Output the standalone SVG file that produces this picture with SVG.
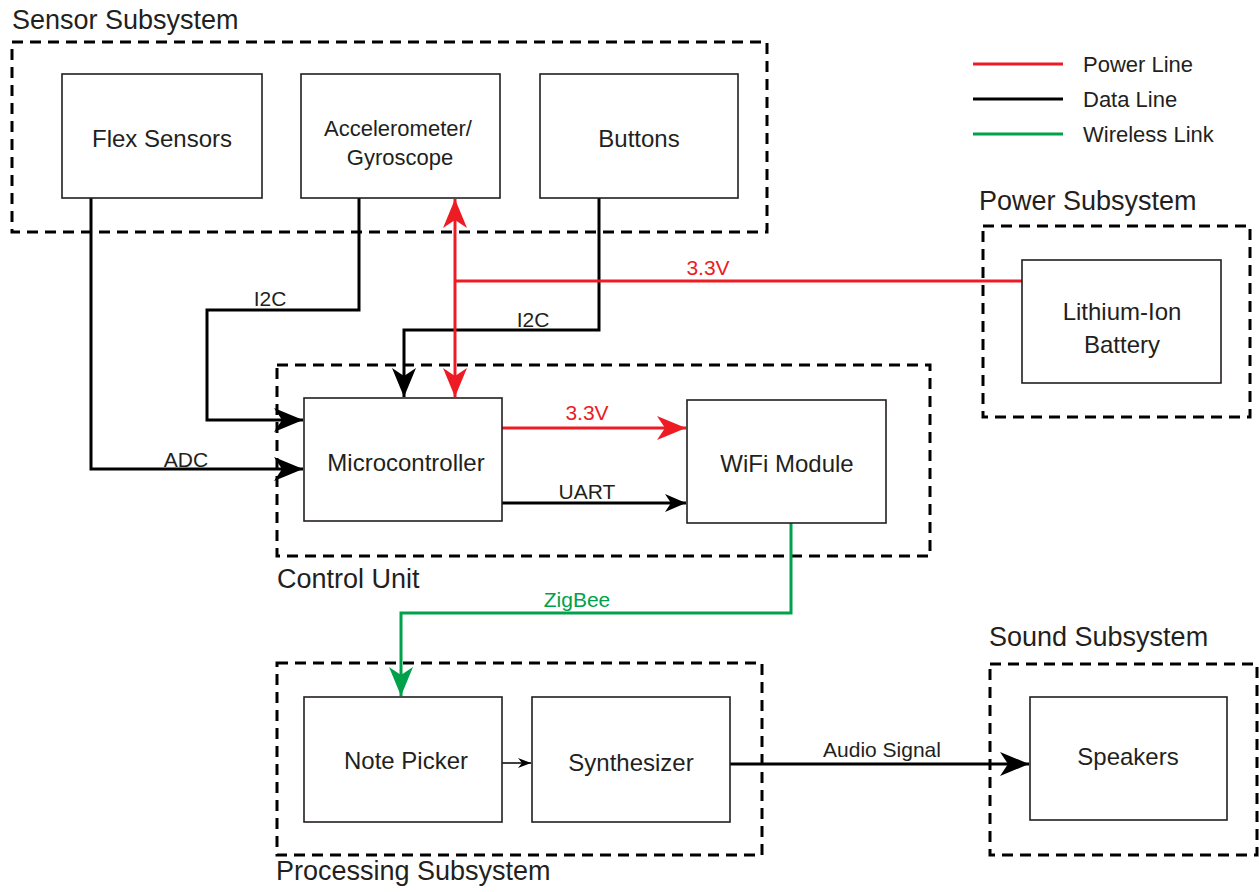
<svg xmlns="http://www.w3.org/2000/svg" width="1259" height="892" viewBox="0 0 1259 892">
<style>
.grp{fill:none;stroke:#000;stroke-width:3;stroke-dasharray:11 7}
.box{fill:#fff;stroke:#231f20;stroke-width:1.6}
.t{font-family:"Liberation Sans",Arial,sans-serif;fill:#231f20}
.gl{font-size:27px}
.bl{font-size:24px;text-anchor:middle}
.cl{font-size:21px;text-anchor:middle}
.lg{font-size:22px}
.data{fill:none;stroke:#000;stroke-width:3}
.pow{fill:none;stroke:#ed1c24;stroke-width:3}
.wl{fill:none;stroke:#00a14b;stroke-width:3}
</style>
<defs>
<marker id="ab" markerUnits="userSpaceOnUse" markerWidth="32" markerHeight="28" viewBox="-30 -14 32 28" refX="0" refY="0" orient="auto"><path d="M0,0 L-29,-12 L-21,0 L-29,12 Z" fill="#000"/></marker>
<marker id="ar" markerUnits="userSpaceOnUse" markerWidth="32" markerHeight="28" viewBox="-30 -14 32 28" refX="0" refY="0" orient="auto-start-reverse"><path d="M0,0 L-29,-12 L-21,0 L-29,12 Z" fill="#ed1c24"/></marker>
<marker id="ag" markerUnits="userSpaceOnUse" markerWidth="32" markerHeight="28" viewBox="-30 -14 32 28" refX="0" refY="0" orient="auto"><path d="M0,0 L-29,-12 L-21,0 L-29,12 Z" fill="#00a14b"/></marker>
<marker id="abs" markerUnits="userSpaceOnUse" markerWidth="24" markerHeight="20" viewBox="-22 -10 24 20" refX="0" refY="0" orient="auto"><path d="M0,0 L-21,-9 L-15,0 L-21,9 Z" fill="#000"/></marker>
<marker id="at" markerUnits="userSpaceOnUse" markerWidth="16" markerHeight="12" viewBox="-14 -6 16 12" refX="0" refY="0" orient="auto"><path d="M0,0 L-13,-5 L-9,0 L-13,5 Z" fill="#000"/></marker>
</defs>

<g id="sensor-subsystem">
<rect class="grp" x="12" y="42" width="755" height="190"/>
<text class="t gl" x="12" y="29">Sensor Subsystem</text>
</g>
<g id="power-subsystem">
<rect class="grp" x="983" y="226" width="267" height="191"/>
<text class="t gl" x="979" y="210">Power Subsystem</text>
</g>
<g id="control-unit">
<rect class="grp" x="277" y="365" width="653" height="191"/>
<text class="t gl" x="277" y="588">Control Unit</text>
</g>
<g id="processing-subsystem">
<rect class="grp" x="277" y="663" width="485" height="192"/>
<text class="t gl" x="276" y="880">Processing Subsystem</text>
</g>
<g id="sound-subsystem">
<rect class="grp" x="990" y="664" width="267" height="191"/>
<text class="t gl" x="989" y="646">Sound Subsystem</text>
</g>

<g id="legend">
<line x1="973" y1="64" x2="1063" y2="64" class="pow"/>
<line x1="973" y1="99" x2="1063" y2="99" class="data"/>
<line x1="973" y1="134" x2="1063" y2="134" class="wl"/>
<text class="t lg" x="1083" y="72">Power Line</text>
<text class="t lg" x="1083" y="107">Data Line</text>
<text class="t lg" x="1083" y="142">Wireless Link</text>
</g>

<g id="connectors">
<polyline class="data" points="91,198 91,469 303,469" marker-end="url(#ab)"/>
<polyline class="data" points="359,198 359,310 207,310 207,420 303,420" marker-end="url(#ab)"/>
<polyline class="data" points="599,198 599,330 404,330 404,397" marker-end="url(#ab)"/>
<line class="pow" x1="455" y1="199" x2="455" y2="397" marker-start="url(#ar)" marker-end="url(#ar)"/>
<line class="pow" x1="455" y1="281" x2="1022" y2="281"/>
<line class="pow" x1="502" y1="428" x2="686" y2="428" marker-end="url(#ar)"/>
<line class="data" x1="502" y1="503" x2="686" y2="503" stroke-width="2.5" marker-end="url(#abs)"/>
<polyline class="wl" points="791,523 791,613 401,613 401,696" marker-end="url(#ag)"/>
<line x1="502" y1="763" x2="531" y2="763" stroke="#000" stroke-width="1.5" marker-end="url(#at)"/>
<line class="data" x1="730" y1="764" x2="1029" y2="764" marker-end="url(#ab)"/>
<text class="t cl" x="270" y="306">I2C</text>
<text class="t cl" x="533" y="327">I2C</text>
<text class="t cl" x="186" y="467">ADC</text>
<text class="t cl" x="708" y="275" fill="#ed1c24" style="fill:#ed1c24">3.3V</text>
<text class="t cl" x="587" y="420" style="fill:#ed1c24">3.3V</text>
<text class="t cl" x="587" y="499">UART</text>
<text class="t cl" x="577" y="607" style="fill:#00a14b">ZigBee</text>
<text class="t cl" x="882" y="757">Audio Signal</text>
</g>

<g id="flex-sensors">
<rect class="box" x="62" y="74" width="200" height="124"/>
<text class="t bl" x="162" y="147">Flex Sensors</text>
</g>
<g id="accelerometer-gyroscope">
<rect class="box" x="301" y="74" width="199" height="124"/>
<text class="t bl" x="398" y="136" style="font-size:22px">Accelerometer/</text>
<text class="t bl" x="400" y="165" style="font-size:22px">Gyroscope</text>
</g>
<g id="buttons">
<rect class="box" x="540" y="74" width="198" height="124"/>
<text class="t bl" x="639" y="147">Buttons</text>
</g>
<g id="lithium-ion-battery">
<rect class="box" x="1022" y="260" width="199" height="123"/>
<text class="t bl" x="1122" y="320">Lithium-Ion</text>
<text class="t bl" x="1122" y="353">Battery</text>
</g>
<g id="microcontroller">
<rect class="box" x="304" y="398" width="198" height="123"/>
<text class="t bl" x="406" y="471">Microcontroller</text>
</g>
<g id="wifi-module">
<rect class="box" x="687" y="400" width="199" height="123"/>
<text class="t bl" x="787" y="472">WiFi Module</text>
</g>
<g id="note-picker">
<rect class="box" x="304" y="697" width="198" height="125"/>
<text class="t bl" x="406" y="769">Note Picker</text>
</g>
<g id="synthesizer">
<rect class="box" x="532" y="697" width="198" height="125"/>
<text class="t bl" x="631" y="771">Synthesizer</text>
</g>
<g id="speakers">
<rect class="box" x="1030" y="697" width="197" height="123"/>
<text class="t bl" x="1128" y="765">Speakers</text>
</g>
</svg>
